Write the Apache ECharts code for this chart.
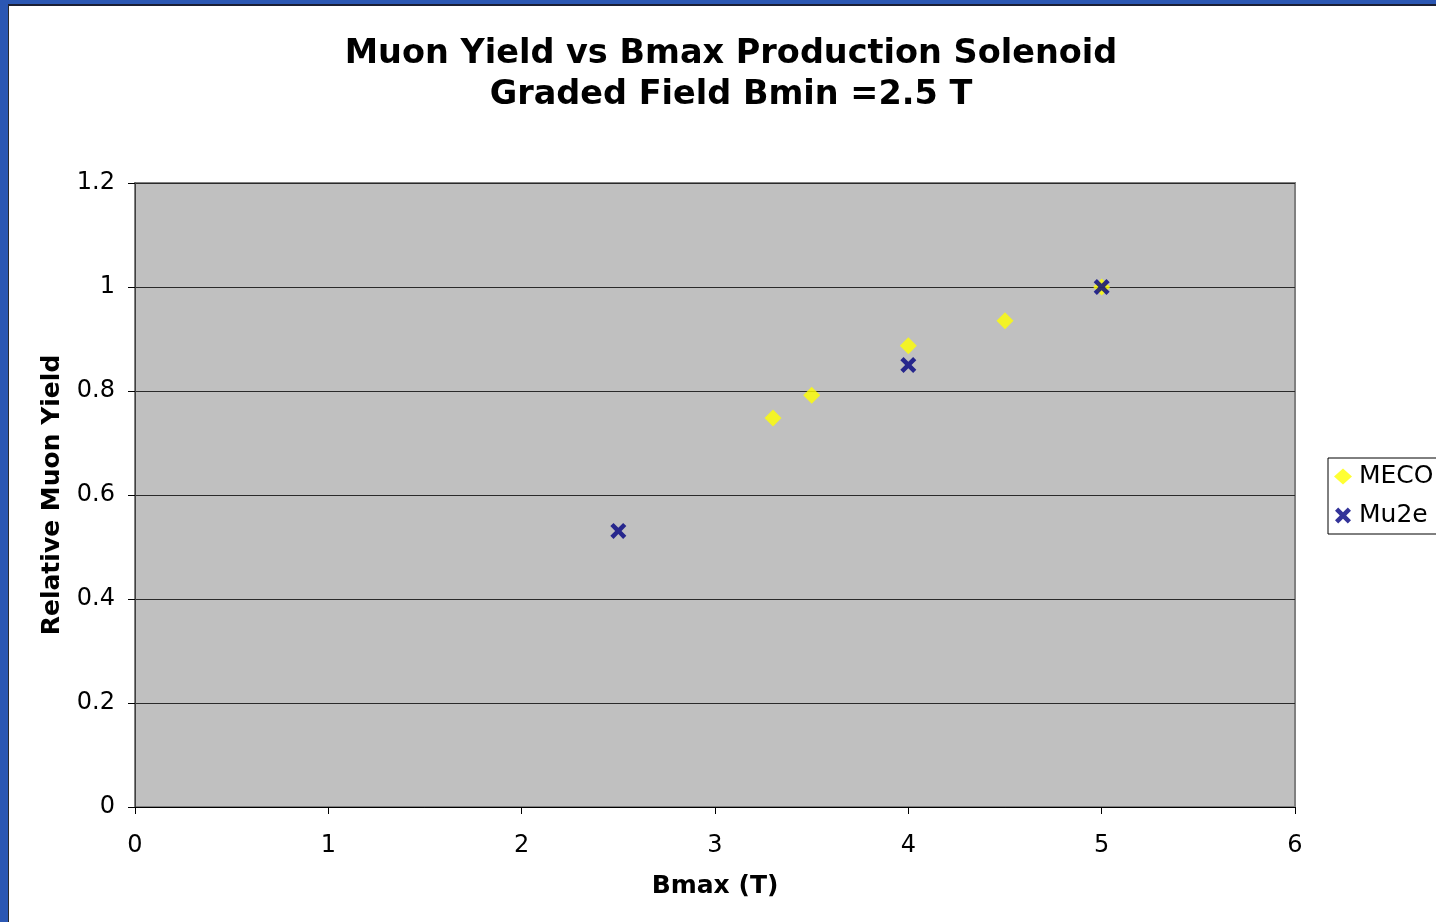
<!DOCTYPE html>
<html>
<head>
<meta charset="utf-8">
<script src="https://cdn.jsdelivr.net/npm/echarts@6/dist/echarts.min.js"></script>
<style>
  html, body { margin: 0; padding: 0; width: 1436px; height: 922px; overflow: hidden; background: #2b57b3; }
  .frame {
    position: absolute; left: 8px; top: 4px; width: 1428px; height: 918px;
    border-left: 1px solid #2a2a2a; border-top: 2px solid #1b1f33; box-sizing: border-box;
    background: #fff;
  }
  #chart { width: 100%; height: 100%; }
</style>
</head>
<body>
<div class="frame"><div id="chart"></div></div>
<script>
// 数据
const mecoBmax = [3.3, 3.5, 4.0, 4.5, 5.0]
const mecoYield = [0.748, 0.792, 0.887, 0.935, 1.0]
const mu2eBmax = [2.5, 4.0, 5.0]
const mu2eYield = [0.531, 0.85, 1.0]

const titleLines = ['Muon Yield vs Bmax Production Solenoid', 'Graded Field Bmin =2.5 T']
const font = 'DejaVu Sans, Verdana, sans-serif'

// X 形标记
const crossPath = 'path://M2,0 L5,3 L8,0 L10,2 L7,5 L10,8 L8,10 L5,7 L2,10 L0,8 L3,5 L0,2 Z'

const chart = echarts.init(document.getElementById('chart'))

const option = {
  animation: false,
  textStyle: { fontFamily: font },
  title: {
    text: titleLines.join('\n'),
    left: 717,
    top: 23,
    textAlign: 'center',
    textStyle: {
      fontFamily: font,
      fontSize: 33.5,
      fontWeight: 'bold',
      color: '#000',
      lineHeight: 41,
    },
  },
  legend: {
    orient: 'vertical',
    left: 1319,
    top: 452,
    padding: [6, 20, 6, 6],
    itemGap: 14,
    itemWidth: 18,
    itemHeight: 16,
    borderColor: '#000',
    borderWidth: 1,
    backgroundColor: '#fff',
    textStyle: { fontFamily: font, fontSize: 25, color: '#000', padding: [1, 0, 0, 2] },
    data: ['MECO', 'Mu2e'],
  },
  grid: {
    left: 126,
    top: 177,
    width: 1160,
    height: 624,
    show: true,
    backgroundColor: '#c0c0c0',
    borderColor: '#808080',
    borderWidth: 2,
  },
  xAxis: {
    type: 'value',
    min: 0,
    max: 6,
    interval: 1,
    name: 'Bmax (T)',
    nameLocation: 'middle',
    nameGap: 67,
    nameTextStyle: { fontFamily: font, fontSize: 25, fontWeight: 'bold', color: '#000' },
    axisLine: { show: true, lineStyle: { color: '#000', width: 1 } },
    axisTick: { show: true, length: 7, lineStyle: { color: '#000' } },
    axisLabel: { fontFamily: font, fontSize: 24, color: '#000', margin: 27 },
    splitLine: { show: false },
  },
  yAxis: {
    type: 'value',
    min: 0,
    max: 1.2,
    interval: 0.2,
    name: 'Relative Muon Yield',
    nameLocation: 'middle',
    nameGap: 70,
    nameTextStyle: { fontFamily: font, fontSize: 25, fontWeight: 'bold', color: '#000' },
    axisLine: { show: true, lineStyle: { color: '#404040', width: 1 } },
    axisTick: { show: true, length: 7, lineStyle: { color: '#000' } },
    axisLabel: {
      fontFamily: font,
      fontSize: 24,
      color: '#000',
      margin: 20,
      padding: [4, 0, 0, 0],
      formatter: (v) => String(Math.round(v * 10) / 10),
    },
    splitLine: { show: true, lineStyle: { color: '#2a2a2a', width: 1 } },
  },
  series: [
    {
      name: 'MECO',
      type: 'scatter',
      symbol: 'diamond',
      symbolSize: [17, 17],
      itemStyle: { color: '#ffff00' },
      data: mecoBmax.map((x, i) => [x, mecoYield[i]]),
      z: 2,
    },
    {
      name: 'Mu2e',
      type: 'scatter',
      symbol: crossPath,
      symbolSize: 16,
      itemStyle: { color: '#000080' },
      data: mu2eBmax.map((x, i) => [x, mu2eYield[i]]),
      z: 3,
    },
  ],
}

chart.setOption(option)
window.addEventListener('resize', () => chart.resize())
</script>
</body>
</html>
